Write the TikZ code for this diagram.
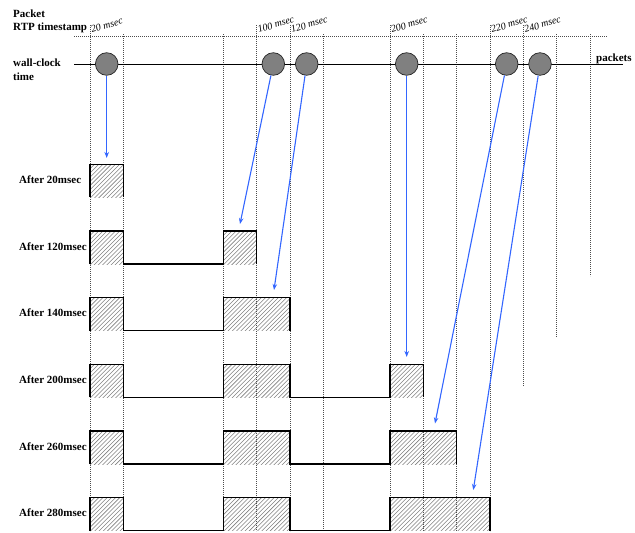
\documentclass[tikz,border=0pt]{standalone}
\usepackage{fontspec}
\setmainfont{Liberation Serif}
\usetikzlibrary{arrows.meta}
\definecolor{arrowblue}{RGB}{51,102,255}
\newcommand{\hatchbox}[4]{%
  \begin{scope}
    \clip (#1,#2) rectangle (#3,#4);
    \foreach \i in {0,...,36} {\draw[hatchline] (#1-34+\i*4.2,#4+1) -- ++(36,-36);}
  \end{scope}}
\begin{document}
\begin{tikzpicture}[x=1pt,y=-1pt,
  gridline/.style={dash pattern=on 0.8pt off 1.2pt, line width=0.7pt, black!70},
  hatchline/.style={line width=0.55pt, black!50},
  wave/.style={line width=1.1pt, black, line join=miter},
  pkt/.style={circle, draw=black!85, line width=0.7pt, fill=black!50, minimum size=22.6pt, inner sep=0pt},
  flow/.style={draw=arrowblue, line width=1.1pt, -{Stealth[length=6pt,width=4.5pt]}},
  lbl/.style={anchor=base west, font=\fontsize{11}{13}\selectfont\bfseries, inner sep=0pt},
  ts/.style={anchor=base west, rotate=17, font=\fontsize{10}{12}\selectfont\itshape, inner sep=0pt},
]
\useasboundingbox (0,0) rectangle (635,533);

% hatched (buffered) regions
\foreach \r/\x/\w in {0/90/33.33,
  1/90/33.33, 1/223.33/33.33,
  2/90/33.33, 2/223.33/66.67,
  3/90/33.33, 3/223.33/66.67, 3/390/33.33,
  4/90/33.33, 4/223.33/66.67, 4/390/66.67,
  5/90/33.33, 5/223.33/66.67, 5/390/100} {
  \pgfmathsetmacro{\T}{164.3+66.67*\r}
  \pgfmathsetmacro{\B}{\T+33.33}
  \pgfmathsetmacro{\X}{\x+\w}
  \hatchbox{\x}{\T}{\X}{\B}
}

% grid
\draw[gridline] (74,36.7) -- (607,36.7);
\foreach \k in {0,5,6,9,12} \draw[gridline] (90+33.333*\k,25) -- (90+33.333*\k,531);
\foreach \k in {1,4,7,10,11} \draw[gridline] (90+33.333*\k,34) -- (90+33.333*\k,531);
\draw[gridline] (90+33.333*13,25) -- (90+33.333*13,386.7);
\draw[gridline] (90+33.333*14,34) -- (90+33.333*14,336.7);
\draw[gridline] (90+33.333*15,34) -- (90+33.333*15,276);

% timestamps
\node[ts] (ts1) at (92,33) {20 msec};
\node[ts] (ts2) at (258.7,33) {100 msec};
\node[ts] (ts3) at (292,33) {120 msec};
\node[ts] (ts4) at (392,33) {200 msec};
\node[ts] (ts5) at (492,33) {220 msec};
\node[ts] (ts6) at (525.3,33) {240 msec};

% labels
\node[lbl] (lp) at (13,17.7) {Packet};
\node[lbl] (lr) at (13,30.7) {RTP timestamp};
\node[lbl] (lw) at (13,66) {wall-clock};
\node[lbl] (lt) at (13,80) {time};
\node[lbl] (lk) at (596,61.7) {packets};

% wall-clock line
\draw[line width=0.9pt] (74,64) -- (623,64);

% packets
\node[pkt] (c1) at (106.7,64) {};
\node[pkt] (c2) at (273.3,64) {};
\node[pkt] (c3) at (306.7,64) {};
\node[pkt] (c4) at (406.7,64) {};
\node[pkt] (c5) at (506.7,64) {};
\node[pkt] (c6) at (540,64) {};

% row labels
\node[lbl] (r1) at (19,183.3) {After 20msec};
\node[lbl] (r2) at (19,250) {After 120msec};
\node[lbl] (r3) at (19,316.7) {After 140msec};
\node[lbl] (r4) at (19,383.3) {After 200msec};
\node[lbl] (r5) at (19,450) {After 260msec};
\node[lbl] (r6) at (19,516.7) {After 280msec};

% waveforms
\begin{scope}[wave]
\draw (90,196.6) -- (90,164.3) -- (123.33,164.3) -- (123.33,196.6);
\draw (90,264) -- (90,231) -- (123.33,231) -- (123.33,264) -- (223.33,264) -- (223.33,231) -- (256.67,231) -- (256.67,264);
\draw (90,330.6) -- (90,297.6) -- (123.33,297.6) -- (123.33,330.6) -- (223.33,330.6) -- (223.33,297.6) -- (290,297.6) -- (290,330.6);
\draw (90,397.3) -- (90,364.3) -- (123.33,364.3) -- (123.33,397.3) -- (223.33,397.3) -- (223.33,364.3) -- (290,364.3) -- (290,397.3) -- (390,397.3) -- (390,364.3) -- (423.33,364.3) -- (423.33,397.3);
\draw (90,464) -- (90,431) -- (123.33,431) -- (123.33,464) -- (223.33,464) -- (223.33,431) -- (290,431) -- (290,464) -- (390,464) -- (390,431) -- (456.67,431) -- (456.67,464);
\draw (90,530.6) -- (90,497.6) -- (123.33,497.6) -- (123.33,530.6) -- (223.33,530.6) -- (223.33,497.6) -- (290,497.6) -- (290,530.6) -- (390,530.6) -- (390,497.6) -- (490,497.6) -- (490,530.6);
\end{scope}

% arrow targets
\coordinate (t1) at (106.7,158);
\coordinate (t2) at (240,224);
\coordinate (t3) at (274,290);
\coordinate (t4) at (406.7,357);
\coordinate (t5) at (435,423.5);
\coordinate (t6) at (473.3,490);
\foreach \n in {1,...,6} \draw[flow] (c\n) -- (t\n);

\end{tikzpicture}
\end{document}
